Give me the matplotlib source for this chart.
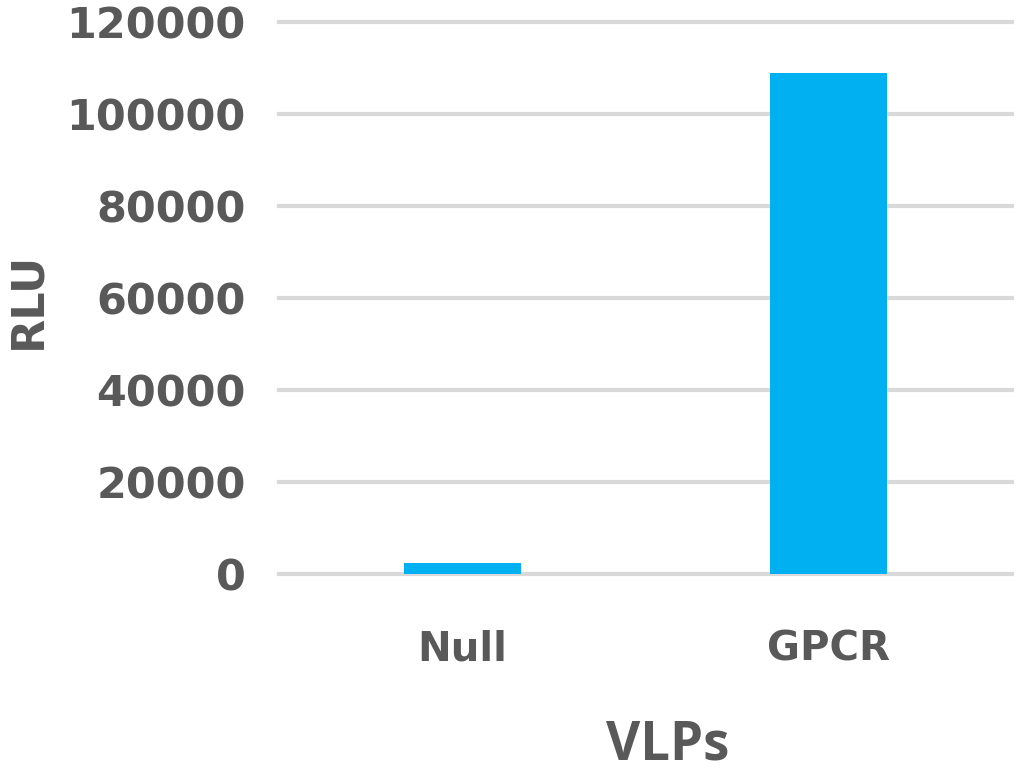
import matplotlib.pyplot as plt

# Data for the plot
categories = ["Null", "GPCR"]
rlu_values = [2500, 108800]
y_ticks = [0, 20000, 40000, 60000, 80000, 100000, 120000]

text_color = "#595959"

fig = plt.figure(figsize=(10.24, 7.81), dpi=100)
ax = fig.add_axes([0.2725, 0.265, 0.7155, 0.707])

ax.bar(range(len(categories)), rlu_values, width=0.32, color="#00b0f0", zorder=3)

ax.set_xlim(-0.5, 1.5)
ax.set_ylim(0, 120000)
ax.set_yticks(y_ticks)
ax.set_yticklabels([str(v) for v in y_ticks], fontsize=31, fontweight="bold",
                   color=text_color)
ax.set_xticks(range(len(categories)))
ax.set_xticklabels(categories, fontsize=29, fontweight="bold", color=text_color)
ax.tick_params(axis="y", length=0, pad=24)
ax.tick_params(axis="x", length=0, pad=40)

# Light horizontal gridlines, no frame
ax.grid(axis="y", color="#d9d9d9", linewidth=3, zorder=0)
for line in ax.get_ygridlines():
    line.set_clip_on(False)
ax.set_axisbelow(True)
for side in ["top", "right", "left", "bottom"]:
    ax.spines[side].set_visible(False)

# Axis titles
fig.text(0.027, 0.615, "RLU", rotation=90, ha="center", va="center",
         fontsize=32, fontweight="bold", color=text_color)
fig.text(0.652, 0.045, "VLPs", ha="center", va="center",
         fontsize=38, fontweight="bold", family="Open Sans", color=text_color)

fig.savefig("out.png", dpi=100)
